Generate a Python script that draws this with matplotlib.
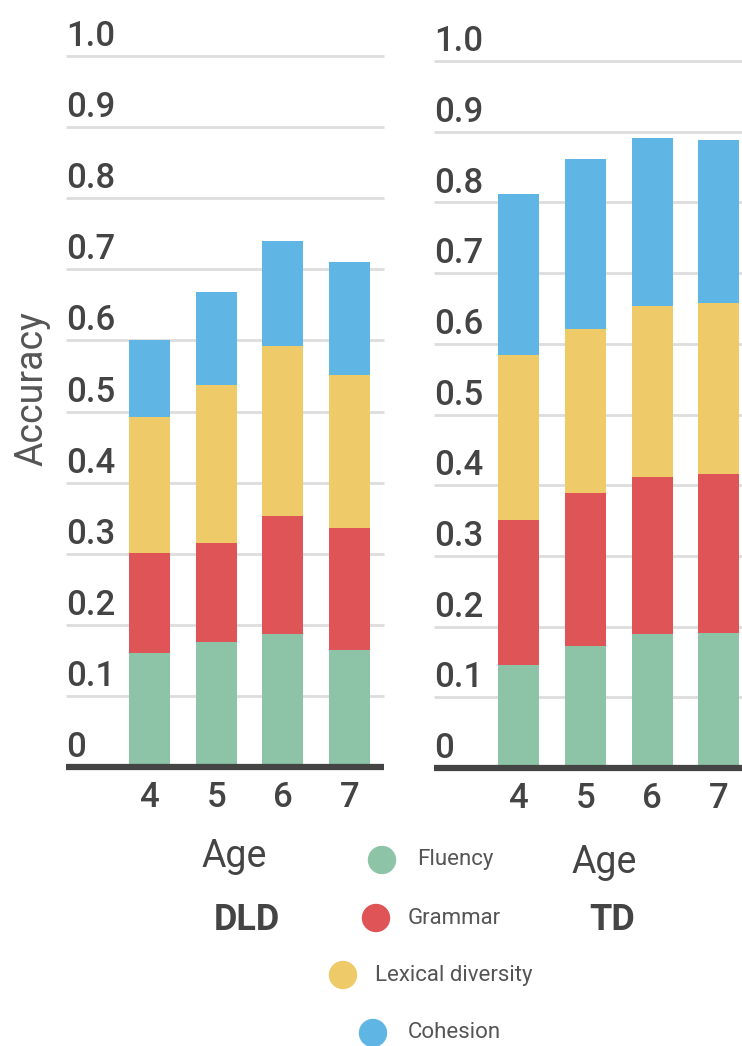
import numpy as np
import matplotlib.pyplot as plt
from matplotlib.patches import Ellipse

plt.rcParams['font.family'] = ['Roboto', 'DejaVu Sans']

ages = ['4', '5', '6', '7']
series = ['Fluency', 'Grammar', 'Lexical diversity', 'Cohesion']
colors = ['#8DC4A7', '#DE5457', '#EFCA69', '#5FB6E5']

# segment heights (stacked)
dld_fluency = [0.160, 0.176, 0.187, 0.165]
dld_grammar = [0.141, 0.139, 0.166, 0.171]
dld_lexical = [0.191, 0.222, 0.239, 0.215]
dld_cohesion = [0.109, 0.131, 0.148, 0.159]

td_fluency = [0.146, 0.173, 0.190, 0.191]
td_grammar = [0.205, 0.216, 0.222, 0.225]
td_lexical = [0.233, 0.232, 0.241, 0.242]
td_cohesion = [0.228, 0.240, 0.238, 0.230]

yticks = [0, 0.1, 0.2, 0.3, 0.4, 0.5, 0.6, 0.7, 0.8, 0.9, 1.0]
ytick_labels = ['0', '0.1', '0.2', '0.3', '0.4', '0.5', '0.6', '0.7', '0.8', '0.9', '1.0']

W, H = 742, 1046
text_col = '#444444'


def px(x, y):
    return x / W, 1 - y / H


fig = plt.figure(figsize=(W / 100, H / 100), dpi=100)


def draw_panel(rect, xlim, data):
    ax = fig.add_axes(rect)
    x = np.arange(len(ages))
    bottom = np.zeros(len(ages))
    for vals, c in zip(data, colors):
        ax.bar(x, vals, width=0.615, bottom=bottom, color=c, zorder=3)
        bottom += np.array(vals)
    ax.set_xlim(*xlim)
    ax.set_ylim(0, 1.0)
    for v, lab in zip(yticks, ytick_labels):
        if v > 0:
            ax.axhline(v, color='#DDDDDD', lw=2, zorder=1, clip_on=False,
                       solid_capstyle='butt')
        ax.text(0, v + 0.014, lab, transform=ax.get_yaxis_transform(),
                ha='left', va='baseline', fontsize=25, color=text_col,
                fontweight='medium', clip_on=False)
    ax.axhline(0, color='#444444', lw=4.5, zorder=4, clip_on=False,
               solid_capstyle='butt')
    ax.set_yticks([])
    ax.set_xticks(x)
    ax.set_xticklabels(ages, fontsize=25, color=text_col, fontweight='medium')
    ax.tick_params(axis='x', length=0, pad=10)
    for s in ax.spines.values():
        s.set_visible(False)
    return ax


l0, b0 = px(66, 767)
l1, b1 = px(434, 768)
draw_panel([l0, b0, 318 / W, 711 / H], (-1.252, 3.516),
           [dld_fluency, dld_grammar, dld_lexical, dld_cohesion])
draw_panel([l1, b1, 326 / W, 707 / H], (-1.27, 3.62),
           [td_fluency, td_grammar, td_lexical, td_cohesion])

fig.text(*px(32, 389), 'Accuracy', rotation=90, ha='center', va='center',
         fontsize=27, color='#555555')
fig.text(*px(234, 867), 'Age', ha='center', va='baseline', fontsize=27,
         color='#444444')
fig.text(*px(604, 873), 'Age', ha='center', va='baseline', fontsize=27,
         color='#444444')
fig.text(*px(247, 930), 'DLD', ha='center', va='baseline', fontsize=26,
         color='#444444', fontweight='bold')
fig.text(*px(612, 930), 'TD', ha='center', va='baseline', fontsize=26,
         color='#444444', fontweight='bold')

# legend (placed loosely as in the picture)
leg_circles = [(382, 860), (376, 918), (343, 975), (373, 1033)]
leg_text = [(417, 860), (408, 918), (375, 975), (408, 1033)]
for name, c, (cx, cy), (tx, ty) in zip(series, colors, leg_circles, leg_text):
    fx, fy = px(cx, cy)
    fig.add_artist(Ellipse((fx, fy), 27 / W, 27 / H, color=c,
                           transform=fig.transFigure))
    fig.text(*px(tx, ty), name, ha='left', va='center', fontsize=16,
             color='#555555')

plt.savefig('out.png', dpi=100)
